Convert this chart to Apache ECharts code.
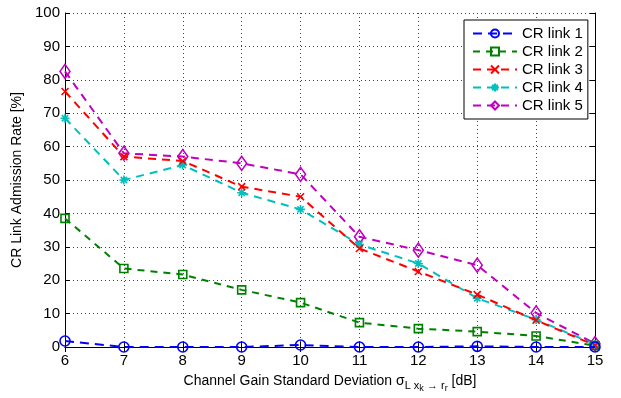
<!DOCTYPE html>
<html><head><meta charset="utf-8">
<script src="https://cdn.jsdelivr.net/npm/echarts@6/dist/echarts.min.js"></script>
<style>html,body{margin:0;padding:0;background:#fff}#c{width:621px;height:398px}</style>
</head><body><div id="c"></div>
<script>
const xValues = [6, 7, 8, 9, 10, 11, 12, 13, 14, 15];
const seriesNames = ['CR link 1', 'CR link 2', 'CR link 3', 'CR link 4', 'CR link 5'];
const link1 = [1.8, 0, 0, 0, 0.6, 0, 0, 0.2, 0, 0];
const link2 = [38.5, 23.5, 21.7, 17.1, 13.3, 7.3, 5.5, 4.6, 3.3, 0.4];
const link3 = [76.5, 57, 55.7, 48, 45, 29.5, 22.6, 15.7, 8, 0.5];
const link4 = [68.5, 50, 54.5, 46.2, 41.2, 30.7, 25, 14.6, 8.2, 0.8];
const link5 = [82.5, 58, 57, 55, 51.7, 33, 29, 24.5, 10.2, 1];
const yTicks = [0, 10, 20, 30, 40, 50, 60, 70, 80, 90, 100];

const colors = ['#0000ff', '#008000', '#ff0000', '#00bfbf', '#bf00bf'];
const data = [link1, link2, link3, link4, link5];
const symbols = [
  'circle', 'rect',
  'path://M0,0L10,10M10,0L0,10',
  'path://M5,0L5,10M0,5L10,5M1.5,1.5L8.5,8.5M8.5,1.5L1.5,8.5',
  'diamond'
];
const sizes = [10, 8, 7, 9, [10, 14]];
const dashes = [[9, 6], [7, 6], [8, 6], [8, 6], [8, 6]];

const series = seriesNames.map((n, i) => ({
  name: n, type: 'line',
  data: xValues.map((x, j) => [x, data[i][j]]),
  symbol: symbols[i], symbolSize: sizes[i], showAllSymbol: true,
  lineStyle: { color: colors[i], width: 2, type: dashes[i] },
  itemStyle: { color: 'transparent', borderColor: colors[i], borderWidth: 1.6 },
  emphasis: { disabled: true },
  z: 10 - i
}));

const chart = echarts.init(document.getElementById('c'), null, { renderer: 'canvas' });
const font = '"Liberation Sans", Arial, Helvetica, sans-serif';
chart.setOption({
  animation: false,
  textStyle: { fontFamily: font },
  grid: { left: 65, right: 26, top: 13, bottom: 51, containLabel: false, outerBoundsMode: 'none' },
  legend: {
    left: 464, top: 20, orient: 'vertical',
    itemWidth: 44, itemHeight: 10, itemGap: 3,
    padding: [6, 5, 6, 8],
    backgroundColor: '#fff', borderColor: '#000', borderWidth: 1,
    textStyle: { fontSize: 15, color: '#000', fontFamily: font },
    data: seriesNames
  },
  xAxis: [{
    type: 'value', min: 6, max: 15, interval: 1,
    name: '{a|Channel Gain Standard Deviation σ}{s|L x}{ss|k}{s| → r}{ss|r}{a| [dB]}',
    nameLocation: 'middle', nameGap: 23,
    nameTextStyle: {
      rich: {
        a: { fontSize: 14, color: '#000', fontFamily: font },
        s: { fontSize: 11, color: '#000', fontFamily: font, padding: [8, 0, 0, 0] },
        ss: { fontSize: 9, color: '#000', fontFamily: font, padding: [14, 0, 0, 0] }
      }
    },
    axisLine: { onZero: false, lineStyle: { color: '#000', width: 1 } },
    axisTick: { inside: true, length: 5, lineStyle: { color: '#000' } },
    axisLabel: { fontSize: 15, color: '#000', margin: 6 },
    splitLine: { show: true, lineStyle: { color: '#444', type: [1, 3], width: 1 } }
  }, {
    type: 'value', min: 6, max: 15, interval: 1, position: 'top',
    axisLine: { show: true, lineStyle: { color: '#000', width: 1 } },
    axisTick: { show: true, inside: true, length: 5, lineStyle: { color: '#000' } },
    axisLabel: { show: false }, splitLine: { show: false }
  }],
  yAxis: [{
    type: 'value', min: yTicks[0], max: yTicks[yTicks.length - 1], interval: 10,
    name: 'CR Link Admission Rate [%]', nameLocation: 'middle', nameGap: 36,
    nameTextStyle: { fontSize: 14, color: '#000' },
    axisLine: { show: true, lineStyle: { color: '#000', width: 1 } },
    axisTick: { show: true, inside: true, length: 5, lineStyle: { color: '#000' } },
    axisLabel: { fontSize: 15, color: '#000', margin: 5 },
    splitLine: { show: true, lineStyle: { color: '#444', type: [1, 3], width: 1 } }
  }, {
    type: 'value', min: 0, max: 100, interval: 10, position: 'right',
    axisLine: { show: true, lineStyle: { color: '#000', width: 1 } },
    axisTick: { show: true, inside: true, length: 5, lineStyle: { color: '#000' } },
    axisLabel: { show: false }, splitLine: { show: false }
  }],
  series: series
});
</script></body></html>
